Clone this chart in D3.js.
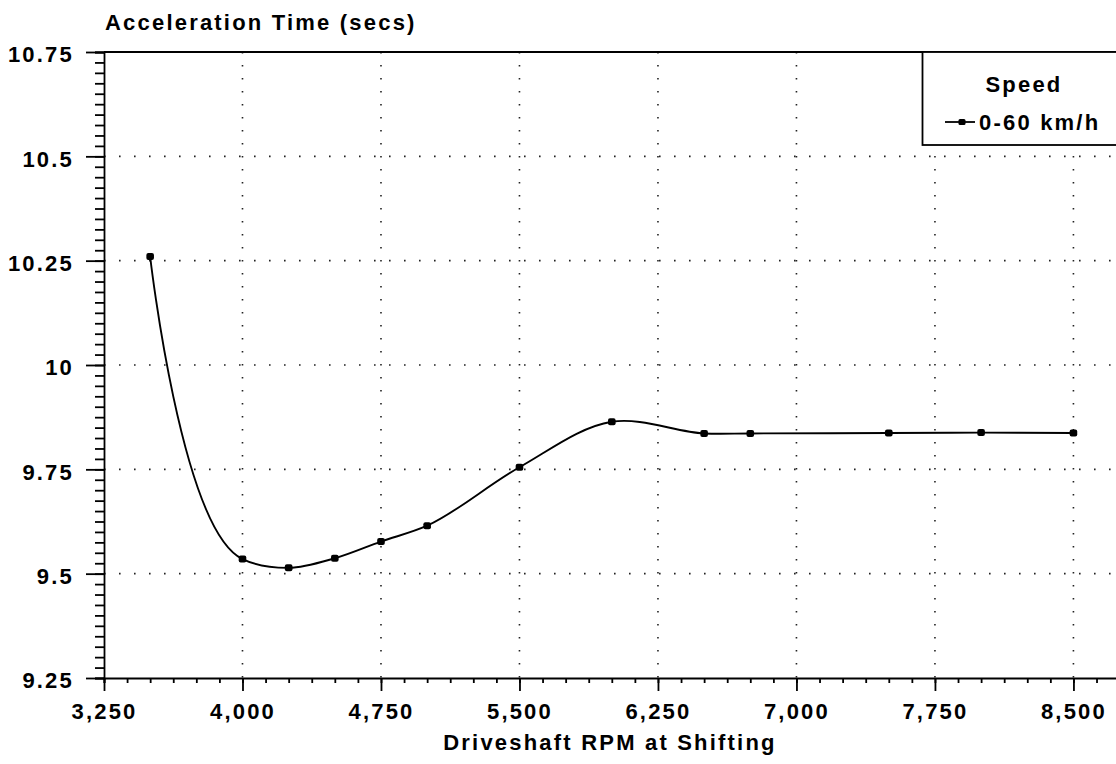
<!DOCTYPE html>
<html>
<head>
<meta charset="utf-8">
<script src="https://cdn.jsdelivr.net/npm/d3@7"></script>
<style>
  html, body { margin: 0; padding: 0; background: #fff; }
  svg { display: block; }
  text { font-family: "Liberation Sans", Arial, Helvetica, sans-serif; font-weight: bold; fill: #000; }
</style>
</head>
<body>
<svg id="chart" width="1116" height="764"></svg>
<script>
// ---- data ----
const rpm = [3500, 4000, 4250, 4500, 4750, 5000, 5500, 6000, 6500, 6750, 7500, 8000, 8500];
const accelTime = [10.26, 9.535, 9.514, 9.537, 9.577, 9.615, 9.755, 9.864, 9.836, 9.836, 9.837, 9.838, 9.837];
const xTicks = [3250, 4000, 4750, 5500, 6250, 7000, 7750, 8500];
const yTicks = [9.25, 9.5, 9.75, 10, 10.25, 10.5, 10.75];
const seriesName = "0-60 km/h";
const legendTitle = "Speed";
const yTitle = "Acceleration Time (secs)";
const xTitle = "Driveshaft RPM at Shifting";

// ---- layout ----
const svg = d3.select("#chart");
const FS = 22, LS = 2.2;
const x = d3.scaleLinear().domain([3250, 8750]).range([104, 1119.6]);
const y = d3.scaleLinear().domain([9.25, 10.75]).range([678, 52]);

const minorX = d3.range(3250, 8751, 125);
const minorY = d3.range(0, 61).map(i => 9.25 + i * 0.025);

// gridlines
const grid = svg.append("g").attr("stroke", "#222").attr("stroke-width", 1.6).attr("fill", "none");
grid.selectAll("line.v").data(xTicks.filter(d => d > 3250)).join("line")
  .attr("x1", d => x(d)).attr("x2", d => x(d))
  .attr("y1", y(10.75)).attr("y2", y(9.25))
  .attr("stroke-dasharray", "1.6,11.4");
grid.selectAll("line.h").data(yTicks.filter(d => d > 9.25 && d < 10.75)).join("line")
  .attr("x1", x(3250)).attr("x2", 1116)
  .attr("y1", d => y(d)).attr("y2", d => y(d))
  .attr("stroke-dasharray", "1.6,13.4");

// top border
svg.append("line").attr("x1", x(3250)).attr("x2", 1116)
  .attr("y1", y(10.75)).attr("y2", y(10.75))
  .attr("stroke", "#000").attr("stroke-width", 1.8);

// axes
function styleAxis(g) {
  g.selectAll("path, line").attr("stroke", "#000").attr("stroke-width", 1.8);
}
const xMinor = svg.append("g").attr("transform", `translate(0,${y(9.25)})`)
  .call(d3.axisBottom(x).tickValues(minorX).tickSize(5).tickFormat(""));
xMinor.call(styleAxis);
const xMajor = svg.append("g").attr("transform", `translate(0,${y(9.25)})`)
  .call(d3.axisBottom(x).tickValues(xTicks).tickSize(13).tickFormat(d3.format(",")));
xMajor.call(styleAxis);
xMajor.select(".domain").remove();
xMajor.selectAll("text").attr("y", 41).attr("dy", 0)
  .attr("font-size", FS).attr("font-family", null).style("letter-spacing", LS + "px");

const yMinor = svg.append("g").attr("transform", `translate(${x(3250)},0)`)
  .call(d3.axisLeft(y).tickValues(minorY).tickSize(9).tickFormat(""));
yMinor.call(styleAxis);
const yMajor = svg.append("g").attr("transform", `translate(${x(3250)},0)`)
  .call(d3.axisLeft(y).tickValues(yTicks).tickSize(18).tickPadding(12).tickFormat(d => d3.format("")(d)));
yMajor.call(styleAxis);
yMajor.select(".domain").remove();
yMajor.selectAll("text").attr("dy", "0.45em")
  .attr("font-size", FS).attr("font-family", null).style("letter-spacing", LS + "px");

// titles
svg.append("text").attr("x", 105).attr("y", 30).attr("font-size", FS)
  .style("letter-spacing", LS + "px").text(yTitle);
svg.append("text").attr("x", 610).attr("y", 750).attr("text-anchor", "middle")
  .attr("font-size", FS).style("letter-spacing", LS + "px").text(xTitle);

// series line
const pts = rpm.map((r, i) => [r, accelTime[i]]);
const line = d3.line().x(d => x(d[0])).y(d => y(d[1])).curve(d3.curveCatmullRom.alpha(0.78));
svg.append("path").datum(pts).attr("d", line)
  .attr("fill", "none").attr("stroke", "#000").attr("stroke-width", 1.9);
svg.selectAll("rect.pt").data(pts).join("rect").attr("class", "pt")
  .attr("x", d => x(d[0]) - 3.8).attr("y", d => y(d[1]) - 3.5)
  .attr("width", 7.6).attr("height", 7).attr("rx", 2).attr("fill", "#000");

// legend
const lg = svg.append("g");
lg.append("rect").attr("x", 922.5).attr("y", y(10.75)).attr("width", 260).attr("height", 93)
  .attr("fill", "#fff").attr("stroke", "#000").attr("stroke-width", 1.8);
lg.append("text").attr("x", 1024).attr("y", 92).attr("text-anchor", "middle")
  .attr("font-size", FS).style("letter-spacing", LS + "px").text(legendTitle);
lg.append("line").attr("x1", 945).attr("x2", 975).attr("y1", 122).attr("y2", 122)
  .attr("stroke", "#000").attr("stroke-width", 1.8);
lg.append("rect").attr("x", 958.5).attr("y", 119).attr("width", 7).attr("height", 6).attr("rx", 1.5).attr("fill", "#000");
lg.append("text").attr("x", 979).attr("y", 130)
  .attr("font-size", FS).style("letter-spacing", LS + "px").text(seriesName);
</script>
</body>
</html>
